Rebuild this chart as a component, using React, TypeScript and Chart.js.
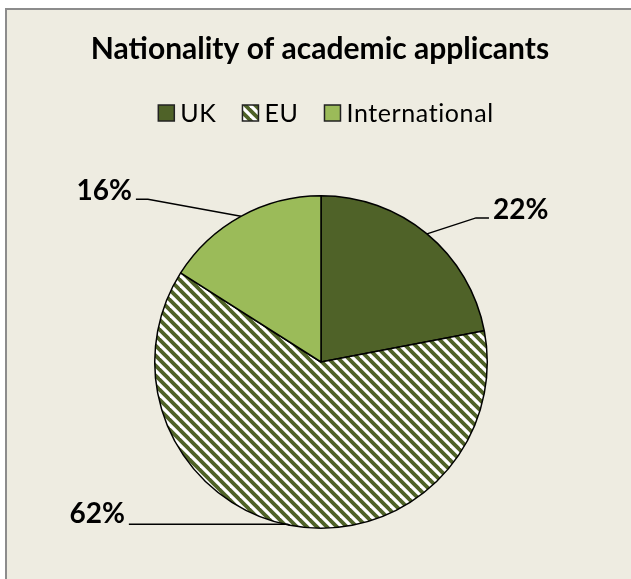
import { useEffect, useRef } from "react";
import { Chart, registerables } from "chart.js";

Chart.register(...registerables);

const categories = ["UK", "EU", "International"];
const shares = [22, 62, 16];
const pctLabels = ["22%", "62%", "16%"];
const titleText = "Nationality of academic applicants";

const DARK = "#4F6228";
const LIGHT = "#9BBB59";
const BG = "#EEECE1";
const FONT = "Lato, 'Open Sans', sans-serif";

// leader-line layout (styling only)
const labelLayout = [
  { dx: 49, dy: -16, run: 13, ty: 1 },
  { dx: -2, dy: -1, run: -159, ty: -1 },
  { dx: -93, dy: -17, run: -12, ty: 1 },
];

function makeHatch(): CanvasPattern {
  const t = 10;
  const c = document.createElement("canvas");
  c.width = t;
  c.height = t;
  const g = c.getContext("2d")!;
  g.fillStyle = "#ffffff";
  g.fillRect(0, 0, t, t);
  g.strokeStyle = DARK;
  g.lineWidth = 3.8;
  for (const k of [-t, 0, t]) {
    g.beginPath();
    g.moveTo(-2, -2 + k);
    g.lineTo(t + 2, t + 2 + k);
    g.stroke();
  }
  return g.createPattern(c, "repeat")!;
}

const decor = {
  id: "decor",
  beforeDraw(chart: any) {
    const ctx = chart.ctx as CanvasRenderingContext2D;
    const w = chart.width, h = chart.height;
    ctx.save();
    ctx.fillStyle = "#ffffff";
    ctx.fillRect(0, 0, w, h);
    ctx.fillStyle = "#8C8C8C";
    ctx.fillRect(5, 8, w, h);
    ctx.fillStyle = BG;
    ctx.fillRect(7, 10, w, h);
    ctx.restore();
  },
  afterDatasetsDraw(chart: any) {
    const ctx = chart.ctx as CanvasRenderingContext2D;
    const ds = chart.data.datasets[0];
    ctx.save();
    // title
    ctx.fillStyle = "#000";
    ctx.font = `bold 30px ${FONT}`;
    ctx.textAlign = "center";
    ctx.textBaseline = "alphabetic";
    ctx.fillText(titleText, 320, 59);

    // legend
    ctx.font = `25px ${FONT}`;
    (ctx as any).letterSpacing = "0.6px";
    const box = 16, gapBT = 6, gapItem = 26;
    const widths = chart.data.labels.map((l: string) => ctx.measureText(l).width);
    const total = widths.reduce((a: number, b: number) => a + b, 0) + categories.length * (box + gapBT) + (categories.length - 1) * gapItem;
    let x = 326 - total / 2;
    ctx.textAlign = "left";
    chart.data.labels.forEach((l: string, i: number) => {
      ctx.fillStyle = ds.backgroundColor[i];
      ctx.fillRect(x, 105, box, box);
      ctx.strokeStyle = "#222";
      ctx.lineWidth = 1.5;
      ctx.strokeRect(x, 105, box, box);
      ctx.fillStyle = "#000";
      ctx.fillText(l, x + box + gapBT, 122);
      x += box + gapBT + widths[i] + gapItem;
    });
    (ctx as any).letterSpacing = "0px";

    // data labels with leader lines
    const meta = chart.getDatasetMeta(0);
    ctx.font = `bold 28px ${FONT}`;
    meta.data.forEach((arc: any, i: number) => {
      const p = arc.getProps(["x", "y", "startAngle", "endAngle", "outerRadius"], true);
      const mid = (p.startAngle + p.endAngle) / 2;
      const ex = p.x + Math.cos(mid) * p.outerRadius;
      const ey = p.y + Math.sin(mid) * p.outerRadius;
      const c = labelLayout[i];
      const bx = ex + c.dx, by = ey + c.dy;
      const tx = bx + c.run;
      ctx.strokeStyle = "#000";
      ctx.lineWidth = 1.5;
      ctx.beginPath();
      ctx.moveTo(ex, ey);
      ctx.lineTo(bx, by);
      ctx.lineTo(tx, by);
      ctx.stroke();
      ctx.fillStyle = "#000";
      ctx.textAlign = c.run > 0 ? "left" : "right";
      ctx.fillText(pctLabels[i], tx + (c.run > 0 ? 4 : -4), by + c.ty);
    });
    ctx.restore();
  },
};

export default function App() {
  const ref = useRef<HTMLCanvasElement>(null);
  useEffect(() => {
    document.body.style.margin = "0";
    const canvas = ref.current!;
    const hatch = makeHatch();
    const chart = new Chart(canvas, {
      type: "pie",
      data: {
        labels: categories,
        datasets: [
          {
            data: shares,
            backgroundColor: [DARK, hatch, LIGHT] as any,
            borderColor: "#000000",
            borderWidth: 1.5,
          },
        ],
      },
      options: {
        responsive: false,
        animation: false,
        devicePixelRatio: 1,
        events: [],
        layout: { padding: { top: 195, bottom: 50, left: 100, right: 89 } },
        plugins: {
          legend: { display: false },
          title: { display: false },
          tooltip: { enabled: false },
        },
      },
      plugins: [decor],
    });
    return () => chart.destroy();
  }, []);
  return (
    <canvas
      ref={ref}
      width={631}
      height={579}
      style={{ display: "block", width: 631, height: 579 }}
    />
  );
}
